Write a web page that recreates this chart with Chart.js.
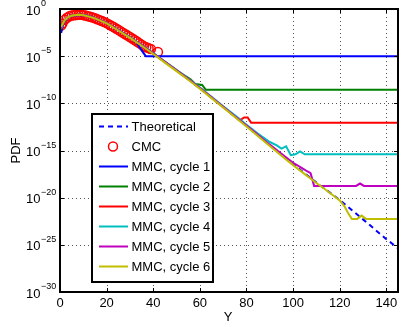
<!DOCTYPE html>
<html>
<head>
<meta charset="utf-8">
<script src="https://cdn.jsdelivr.net/npm/chart.js@4"></script>
<style>
  html, body { margin: 0; padding: 0; background: #fff; overflow: hidden; }
  canvas { display: block; }
</style>
</head>
<body>
<canvas id="chart" width="404" height="327"></canvas>
<script>
// values are [Y, log10(PDF)]
const theoretical = [[0.5,-2.3],[1,-1.8],[1.5,-1.48],[2,-1.25],[3,-0.97],[4,-0.82],[5,-0.72],[6,-0.67],[8,-0.62],[10,-0.65],[12,-0.76],[15,-0.98],[20,-1.5],[25,-2.25],[30,-3.02],[35,-3.85],[40,-4.72],[45,-5.62],[50,-6.52],[55,-7.45],[60,-8.4],[70,-10.4],[80,-12.4],[90,-14.45],[100,-16.45],[110,-18.4],[120,-20.25],[130,-22.3],[140,-24.4],[145,-25.35]];

const cmc = [[0.5,-1.75],[1,-1.55],[2,-1.15],[3,-0.92],[4,-0.78],[5,-0.7],[6,-0.66],[7,-0.63],[8,-0.62],[9,-0.62],[10,-0.65],[11,-0.7],[12,-0.76],[13,-0.83],[14,-0.9],[15,-0.98],[16,-1.08],[17,-1.18],[18,-1.28],[19,-1.39],[20,-1.5],[21,-1.63],[22,-1.77],[23,-1.91],[24,-2.06],[25,-2.21],[26,-2.37],[27,-2.52],[28,-2.67],[29,-2.82],[30,-2.97],[31,-3.13],[32,-3.29],[33,-3.45],[34,-3.62],[35,-3.78],[36,-3.95],[37,-4.05],[38,-4.15],[39,-4.25],[42,-4.55]];

const cycle1 = [[0.5,-2.55],[1,-1.95],[1.5,-1.55],[2,-1.3],[3,-1.0],[4,-0.84],[5,-0.74],[6,-0.68],[8,-0.63],[10,-0.66],[12,-0.77],[15,-0.99],[20,-1.52],[25,-2.27],[30,-3.04],[33,-3.6],[34.5,-4.2],[36.8,-5.0],[145,-5.0]];
const cycle2 = [[0.5,-2.15],[1,-1.75],[1.5,-1.45],[2,-1.23],[3,-0.96],[4,-0.81],[5,-0.72],[6,-0.66],[8,-0.61],[10,-0.64],[12,-0.75],[15,-0.97],[20,-1.49],[25,-2.24],[30,-3.0],[35,-3.84],[40,-4.7],[45,-5.6],[50,-6.48],[53,-6.98],[56,-7.45],[58,-7.95],[61,-8.05],[62.5,-8.55],[145,-8.55]];
const cycle3 = [[0.5,-2.1],[1,-1.72],[1.5,-1.44],[2,-1.22],[3,-0.96],[4,-0.81],[5,-0.72],[6,-0.66],[8,-0.62],[10,-0.65],[12,-0.76],[15,-0.98],[20,-1.5],[25,-2.25],[30,-3.02],[35,-3.85],[40,-4.72],[45,-5.62],[50,-6.52],[55,-7.43],[60,-8.38],[65,-9.38],[70,-10.38],[75,-11.35],[77.5,-11.75],[79,-11.5],[80.5,-11.5],[82,-12.05],[145,-12.05]];
const cycle4 = [[0.5,-2.05],[1,-1.7],[1.5,-1.43],[2,-1.21],[3,-0.95],[4,-0.8],[5,-0.71],[6,-0.66],[8,-0.61],[10,-0.64],[12,-0.75],[15,-0.97],[20,-1.49],[25,-2.23],[30,-3.0],[35,-3.82],[40,-4.68],[45,-5.58],[50,-6.48],[55,-7.4],[60,-8.33],[65,-9.3],[70,-10.3],[75,-11.28],[80,-12.27],[85,-13.22],[90,-14.1],[93,-14.45],[95,-14.8],[97,-14.55],[99,-15.5],[101,-15.4],[103,-15.1],[105,-15.4],[145,-15.4]];
const cycle5 = [[0.5,-2.0],[1,-1.68],[1.5,-1.42],[2,-1.2],[3,-0.95],[4,-0.8],[5,-0.71],[6,-0.66],[8,-0.62],[10,-0.65],[12,-0.76],[15,-0.98],[20,-1.5],[25,-2.25],[30,-3.02],[35,-3.85],[40,-4.7],[45,-5.6],[50,-6.5],[55,-7.42],[60,-8.38],[65,-9.36],[70,-10.36],[75,-11.36],[80,-12.36],[85,-13.36],[90,-14.38],[95,-15.35],[100,-16.3],[104,-16.9],[106,-17.2],[107.5,-17.4],[109,-18.75],[127,-18.75],[128.7,-18.5],[130.4,-18.75],[145,-18.75]];
const cycle6 = [[0.5,-1.9],[1,-1.65],[1.5,-1.4],[2,-1.2],[3,-0.95],[4,-0.8],[5,-0.71],[6,-0.66],[8,-0.62],[10,-0.66],[12,-0.78],[15,-1.0],[20,-1.53],[25,-2.28],[30,-3.06],[35,-3.9],[40,-4.77],[45,-5.68],[50,-6.58],[55,-7.5],[60,-8.45],[65,-9.45],[70,-10.45],[75,-11.45],[80,-12.45],[85,-13.48],[90,-14.52],[95,-15.55],[100,-16.55],[105,-17.5],[110,-18.45],[115,-19.35],[120,-20.3],[122,-20.9],[123.5,-21.6],[125.2,-22.25],[127.5,-22.25],[129.4,-21.9],[131.3,-22.25],[145,-22.25]];

const xTicks = [0, 20, 40, 60, 80, 100, 120, 140];
const yTickExps = [0, -5, -10, -15, -20, -25, -30];
const labels = ['Theoretical', 'CMC', 'MMC, cycle 1', 'MMC, cycle 2', 'MMC, cycle 3', 'MMC, cycle 4', 'MMC, cycle 5', 'MMC, cycle 6'];
const colors = ['#0000ff', '#ff0000', '#0000ff', '#008000', '#ff0000', '#00bfbf', '#bf00bf', '#bfbf00'];

const FONT = '"Liberation Sans", Arial, sans-serif';
const toPoints = arr => arr.map(([yv, e]) => ({ x: yv, y: Math.pow(10, e) }));

function lineSet(i, data, order) {
  return {
    label: labels[i],
    data: toPoints(data),
    borderColor: colors[i],
    borderWidth: 2,
    pointRadius: 0,
    fill: false,
    tension: 0,
    order: order
  };
}

const datasets = [
  Object.assign(lineSet(0, theoretical, 7), { borderDash: [5, 4] }),
  {
    label: labels[1],
    data: toPoints(cmc),
    showLine: false,
    pointStyle: 'circle',
    pointRadius: 4.5,
    pointBorderWidth: 1.5,
    pointBorderColor: colors[1],
    pointBackgroundColor: 'rgba(0,0,0,0)',
    order: 6
  },
  lineSet(2, cycle1, 5),
  lineSet(3, cycle2, 4),
  lineSet(4, cycle3, 3),
  lineSet(5, cycle4, 2),
  lineSet(6, cycle5, 1),
  lineSet(7, cycle6, 0)
];

// grid, box, ticks, labels and legend in the matlab look
const matlabAxes = {
  id: 'matlabAxes',
  beforeDatasetsDraw(chart) {
    const { ctx, chartArea: a, scales: { x, y } } = chart;
    ctx.save();
    ctx.strokeStyle = '#555';
    ctx.lineWidth = 1;
    ctx.setLineDash([1, 3]);
    xTicks.forEach(v => {
      const px = Math.round(x.getPixelForValue(v)) + 0.5;
      ctx.beginPath(); ctx.moveTo(px, a.top); ctx.lineTo(px, a.bottom); ctx.stroke();
    });
    yTickExps.forEach(e => {
      const py = Math.round(y.getPixelForValue(Math.pow(10, e))) + 0.5;
      ctx.beginPath(); ctx.moveTo(a.left, py); ctx.lineTo(a.right, py); ctx.stroke();
    });
    ctx.restore();
  },
  afterDatasetsDraw(chart) {
    const { ctx, chartArea: a, scales: { x, y } } = chart;
    ctx.save();
    ctx.strokeStyle = '#000';
    ctx.fillStyle = '#000';

    // inward ticks
    ctx.lineWidth = 1;
    xTicks.forEach(v => {
      const px = Math.round(x.getPixelForValue(v)) + 0.5;
      ctx.beginPath();
      ctx.moveTo(px, a.bottom); ctx.lineTo(px, a.bottom - 4);
      ctx.moveTo(px, a.top); ctx.lineTo(px, a.top + 4);
      ctx.stroke();
    });
    yTickExps.forEach(e => {
      const py = Math.round(y.getPixelForValue(Math.pow(10, e))) + 0.5;
      ctx.beginPath();
      ctx.moveTo(a.left, py); ctx.lineTo(a.left + 4, py);
      ctx.moveTo(a.right, py); ctx.lineTo(a.right - 4, py);
      ctx.stroke();
    });

    // box
    ctx.lineWidth = 2;
    ctx.strokeRect(a.left, a.top, a.right - a.left, a.bottom - a.top);

    // x tick labels
    ctx.font = '13px ' + FONT;
    ctx.textAlign = 'center';
    ctx.textBaseline = 'alphabetic';
    xTicks.forEach(v => ctx.fillText(String(v), x.getPixelForValue(v), a.bottom + 14.5));

    // y tick labels 10^n
    yTickExps.forEach(e => {
      const py = y.getPixelForValue(Math.pow(10, e));
      ctx.font = '13px ' + FONT;
      ctx.textAlign = 'right';
      ctx.fillText('10', 40.5, py + 5.5);
      ctx.font = '9px ' + FONT;
      ctx.textAlign = 'left';
      ctx.fillText(e === 0 ? '0' : '\u2212' + Math.abs(e), 41, py - 3);
    });

    // axis titles
    ctx.font = '13px ' + FONT;
    ctx.textAlign = 'center';
    ctx.fillText('Y', (a.left + a.right) / 2 - 1, a.bottom + 28.5);
    ctx.save();
    ctx.translate(19.5, (a.top + a.bottom) / 2);
    ctx.rotate(-Math.PI / 2);
    ctx.fillText('PDF', 0, 0);
    ctx.restore();

    // legend
    const lx = a.left + 32, ly = a.top + 105, lw = 121, lh = 168;
    ctx.fillStyle = '#fff';
    ctx.fillRect(lx, ly, lw, lh);
    ctx.lineWidth = 2;
    ctx.strokeStyle = '#000';
    ctx.strokeRect(lx, ly, lw, lh);
    chart.data.datasets.forEach((ds, i) => {
      const ry = ly + 12.5 + i * 20;
      if (ds.showLine === false) {
        ctx.setLineDash([]);
        ctx.lineWidth = 1.5;
        ctx.strokeStyle = ds.pointBorderColor;
        ctx.beginPath(); ctx.arc(lx + 21, ry, 4.5, 0, Math.PI * 2); ctx.stroke();
      } else {
        ctx.setLineDash(ds.borderDash || []);
        ctx.lineWidth = 2;
        ctx.strokeStyle = ds.borderColor;
        ctx.beginPath(); ctx.moveTo(lx + 7, ry); ctx.lineTo(lx + 36, ry); ctx.stroke();
      }
      ctx.setLineDash([]);
      ctx.fillStyle = '#000';
      ctx.font = '13px ' + FONT;
      ctx.textAlign = 'left';
      ctx.textBaseline = 'middle';
      ctx.fillText(ds.label, lx + 39.5, ry + 0.5);
    });
    ctx.restore();
  }
};

new Chart(document.getElementById('chart').getContext('2d'), {
  type: 'line',
  data: { datasets },
  options: {
    responsive: false,
    animation: false,
    layout: { padding: { left: 60, top: 9, right: 1, bottom: 35 } },
    plugins: { legend: { display: false }, tooltip: { enabled: false } },
    scales: {
      x: { type: 'linear', min: 0, max: 145, display: false },
      y: { type: 'logarithmic', min: 1e-30, max: 1, display: false }
    }
  },
  plugins: [matlabAxes]
});
</script>
</body>
</html>
